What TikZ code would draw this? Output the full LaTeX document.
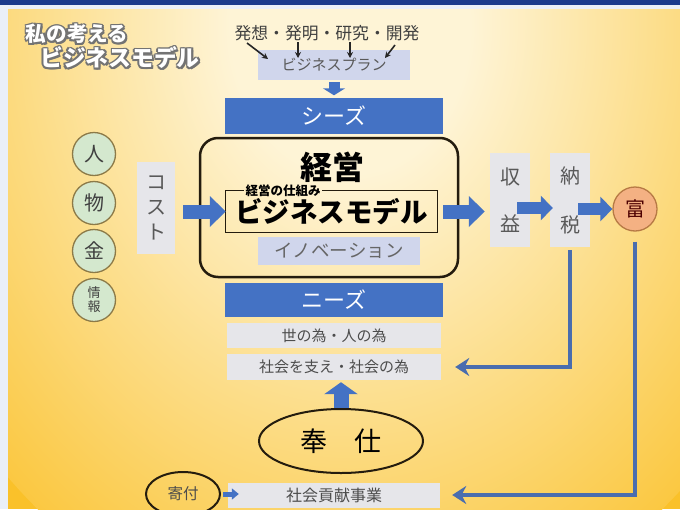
\documentclass[tikz,border=0pt]{standalone}
\usepackage{fontspec}
\newfontfamily\jp{Noto Sans CJK JP}
\usetikzlibrary{positioning,arrows.meta,shapes.geometric}
\definecolor{navy}{HTML}{1B3A8C}
\definecolor{paleblue}{HTML}{EAEFF8}
\definecolor{cream}{HTML}{FEF4D6}
\definecolor{gold}{HTML}{FAC12A}
\definecolor{seedblue}{HTML}{4472C4}
\definecolor{lineblue}{HTML}{4A6DAE}
\definecolor{boxgray}{HTML}{E6E6EA}
\definecolor{lavender}{HTML}{D0D6EC}
\definecolor{leafgreen}{HTML}{D4E8CE}
\definecolor{olive}{HTML}{8C7A48}
\definecolor{salmon}{HTML}{F4B183}
\definecolor{rust}{HTML}{B77A45}
\definecolor{darkframe}{HTML}{241C0E}
\pgfdeclareradialshading{bgglow}{\pgfpoint{0bp}{0bp}}{%
  color(0bp)=(cream); color(6bp)=(cream); color(28bp)=(gold); color(50bp)=(gold)}

\begin{document}
\begin{tikzpicture}[x=1pt,y=-1pt,font=\jp,
  bluebox/.style={fill=seedblue,text=white,minimum width=218pt,
    minimum height=36pt,inner sep=0pt,font=\jp\fontsize{22}{22}\selectfont},
  graybox/.style={fill=boxgray,text=black!70,inner sep=0pt,
    font=\jp\fontsize{15}{15}\selectfont},
  tallbox/.style={graybox,minimum width=40pt,minimum height=94pt,
    align=center,text=black!65},
  resource/.style={circle,draw=olive,line width=1.3pt,fill=leafgreen,
    minimum size=43pt,inner sep=0pt,text=black!75,
    font=\jp\fontsize{20}{20}\selectfont},
  ring/.style={ellipse,draw=darkframe,line width=2pt,inner sep=0pt},
  titleback/.style={text=black!55,font=\jp\bfseries\fontsize{#1}{#1}\selectfont},
  titlefront/.style={text=white,font=\jp\bfseries\fontsize{#1}{#1}\selectfont},
  blockarrow/.style={draw=seedblue,line width=14pt,
    -{Triangle[length=16pt,width=30pt]}},
  thinarrow/.style={draw=black!85,line width=1.6pt,
    -{Stealth[length=6pt,width=6pt]}},
  returnline/.style={draw=lineblue,line width=4.5pt,
    -{Stealth[length=14pt,width=18pt]}},
]
\useasboundingbox
  (0,0)
  rectangle
  (680,509);
% background
\fill[paleblue]
  (0,0)
  rectangle
  (680,509);
\begin{scope}
  \clip
    (8,9)
    rectangle
    (680,509);
  \fill[gold]
    (8,9)
    rectangle
    (680,509);
  \shade[shading=bgglow]
    (350,25)
    ellipse
    [x radius=500, y radius=620];
\end{scope}
\fill[navy]
  (0,0)
  rectangle
  (680,4.5);

% title
\foreach \dx/\dy [count=\k] in {-1.2/-1.2,-1.2/1.2,1.2/-1.2,1.2/1.2,-1.6/0,1.6/0,0/-1.6,0/1.6,1.8/2}
  {\node[titleback=20.6] (tsa\k) at (77+\dx,34+\dy) {私の考える};
   \node[titleback=22.8] (tsb\k) at (120+\dx,58+\dy) {ビジネスモデル};}
\node[titlefront=20.6] (titlea) at (77,34) {私の考える};
\node[titlefront=22.8] (titleb) at (120,58) {ビジネスモデル};

% top
\node[text=black!75,font=\jp\fontsize{16.8}{17}\selectfont] (ideas)
  at (327,33) {発想・発明・研究・開発};
\node[graybox,fill=lavender,text=black!65,minimum width=152pt,
  minimum height=30pt] (plan) at (334,65) {ビジネスプラン};
\coordinate (w1) at (247,43); \coordinate (p1) at (268,59);
\coordinate (w2) at (298,42); \coordinate (p2) at (298,58);
\coordinate (w3) at (350,42); \coordinate (p3) at (350,58);
\coordinate (w4) at (395,45); \coordinate (p4) at (385,58);
\foreach \i in {1,...,4}
  \draw[thinarrow] (w\i) -- (p\i);
\node[bluebox] (seeds) at (334,115.5) {シーズ};
\draw[blockarrow,line width=11pt,-{Triangle[length=7pt,width=22pt]},
  shorten <=2pt,shorten >=2pt]
  (plan.south) -- (seeds.north);

% management
\node[draw=darkframe,line width=2.5pt,rounded corners=18pt,
  minimum width=258pt,minimum height=139pt] (main) at (329,207.5) {};
\node[font=\jp\bfseries\fontsize{32}{32}\selectfont] (keiei)
  at (332,167) {経営};
\node[minimum width=211pt,minimum height=41pt,inner sep=0pt,
  font=\jp\bfseries\fontsize{27.5}{28}\selectfont] (bmodel)
  at (331.5,211.5) {ビジネスモデル};
\node[anchor=west,inner sep=1.5pt,font=\jp\bfseries\fontsize{12.5}{13}\selectfont]
  (mech) at ([xshift=18pt]bmodel.north west) {経営の仕組み};
\draw[darkframe,line width=1.2pt]
  (mech.west) -- (bmodel.north west) -- (bmodel.south west)
  -- (bmodel.south east) -- (bmodel.north east) -- (mech.east);
\node[graybox,fill=lavender,minimum width=162pt,minimum height=28pt,
  text=black!60,font=\jp\fontsize{18.5}{19}\selectfont] (innov)
  at (339,251) {イノベーション};

% needs
\node[bluebox,minimum height=34pt] (needs) at (334,300) {ニーズ};
\node[graybox,minimum width=214pt,minimum height=25pt] (yo)
  at (334,335.5) {世の為・人の為};
\node[graybox,minimum width=214pt,minimum height=26pt] (shakai)
  at (334,367) {社会を支え・社会の為};
\node[ring,minimum width=164pt,minimum height=64pt,
  font=\jp\fontsize{27}{27}\selectfont] (houshi) at (341,441) {奉　仕};
\draw[blockarrow,line width=15pt,-{Triangle[length=12pt,width=33pt]},
  shorten >=2pt]
  (houshi.north) -- (houshi.north |- shakai.south);
\node[ring,minimum width=74pt,minimum height=44pt,text=black!70,
  font=\jp\fontsize{15.5}{16}\selectfont] (kifu) at (183,494) {寄付};
\node[graybox,minimum width=212pt,minimum height=25pt,
  font=\jp\fontsize{16}{16}\selectfont] (kouken) at (334,495) {社会貢献事業};
\draw[blockarrow,line width=5pt,-{Triangle[length=7pt,width=11pt]},
  shorten <=2pt]
  (kifu.east) -- ([xshift=11pt]kouken.west |- kifu.east);

% resources
\node[resource] (hito) at (94,154) {人};
\node[resource] (mono) at (94,203) {物};
\node[resource] (kane) at (94,251) {金};
\node[resource,align=center,font=\jp\fontsize{13}{14}\selectfont]
  (jouhou) at (94,300) {情\\報};

% flow
\node[tallbox,minimum width=38pt,minimum height=92pt,
  font=\jp\fontsize{20}{25}\selectfont] (cost) at (156,207.5) {コ\\ス\\ト};
\node[tallbox,font=\jp\fontsize{20}{47}\selectfont] (profit)
  at (510,200) {収\\益};
\node[tallbox,font=\jp\fontsize{20}{49}\selectfont] (tax)
  at (570,200) {納\\税};
\node[circle,draw=rust,line width=1.3pt,fill=salmon,minimum size=44pt,
  inner sep=0pt,text=black!70!red,font=\jp\fontsize{20}{20}\selectfont]
  (tomi) at (635,209) {富};
\draw[blockarrow,shorten <=8pt]
  (cost.east |- bmodel.west) -- (bmodel.west);
\draw[blockarrow,shorten <=6pt,shorten >=5pt]
  (bmodel.east) -- (bmodel.east -| profit.west);
\draw[blockarrow,line width=12pt,-{Triangle[length=12pt,width=24pt]}]
  ([xshift=-13pt,yshift=-8pt]profit.east) -- ([xshift=3pt,yshift=-8pt]tax.west);
\draw[blockarrow,line width=12pt,-{Triangle[length=12pt,width=24pt]}]
  ([xshift=-12pt]tax.east |- tomi.west) -- (tomi.west);

% return lines
\draw[returnline,shorten <=3pt,shorten >=14pt]
  (tax.south) |- (shakai.east);
\draw[returnline,shorten <=10pt,shorten >=12pt]
  (tomi.south) |- (kouken.east);
\end{tikzpicture}
\end{document}
